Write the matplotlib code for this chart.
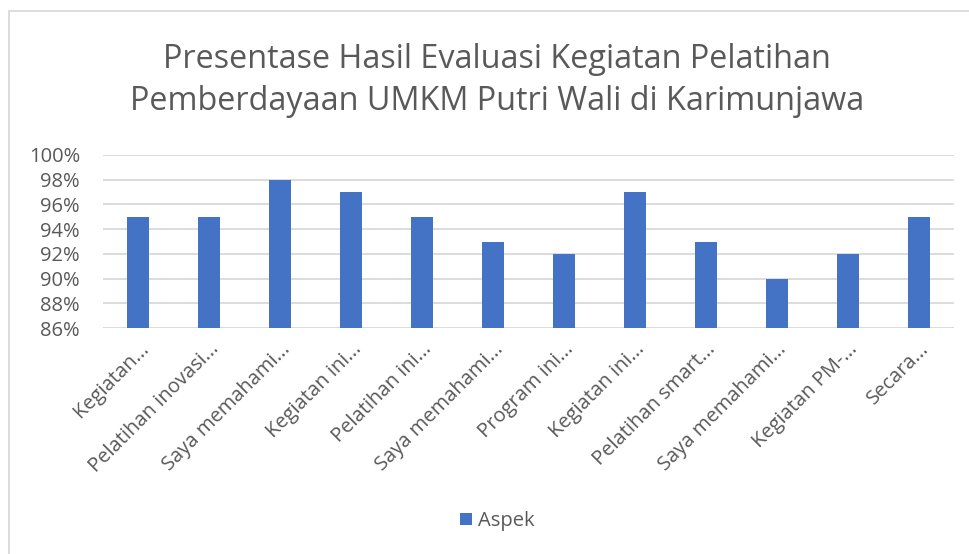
import numpy as np
import matplotlib.pyplot as plt
from matplotlib.patches import Rectangle
from matplotlib.ticker import FuncFormatter

labels = ['Kegiatan...', 'Pelatihan inovasi...', 'Saya memahami...', 'Kegiatan ini...',
          'Pelatihan ini...', 'Saya memahami...', 'Program ini...', 'Kegiatan ini...',
          'Pelatihan smart...', 'Saya memahami...', 'Kegiatan PM-...', 'Secara...']
values = [0.95, 0.95, 0.98, 0.97, 0.95, 0.93, 0.92, 0.97, 0.93, 0.90, 0.92, 0.95]
yticks = [0.86, 0.88, 0.90, 0.92, 0.94, 0.96, 0.98, 1.00]

plt.rcParams['font.family'] = ['Open Sans', 'DejaVu Sans']
grey = '#595959'
W, H = 970, 554

fig = plt.figure(figsize=(9.7, 5.54), dpi=100)
ax = fig.add_axes([103 / W, 1 - 328 / H, (954 - 103) / W, (328 - 155) / H])

x = np.arange(len(labels))
ax.bar(x, values, width=0.31, color='#4472C4', label='Aspek', zorder=3)

ax.set_xlim(-0.5, len(labels) - 0.5)
ax.set_ylim(0.86, 1.00)
ax.set_yticks(yticks)
ax.yaxis.set_major_formatter(FuncFormatter(lambda v, p: f'{v*100:.0f}%'))
ax.grid(axis='y', color='#d9d9d9', linewidth=1.3, zorder=0)
for s in ax.spines.values():
    s.set_visible(False)
ax.tick_params(axis='both', length=0, colors=grey, labelsize=14.5)
ax.tick_params(axis='y', pad=16.5)
ax.set_xticks(x)
ax.set_xticklabels(labels, rotation=45, ha='right', rotation_mode='anchor')
ax.tick_params(axis='x', pad=8)

fig.text(497 / W, 1 - 60 / H, 'Presentase Hasil Evaluasi Kegiatan Pelatihan',
         ha='center', va='center', fontsize=23.3, color=grey)
fig.text(497 / W, 1 - 101 / H, 'Pemberdayaan UMKM Putri Wali di Karimunjawa',
         ha='center', va='center', fontsize=23.3, color=grey)

fig.legend(loc='center', bbox_to_anchor=(497 / W, 1 - 521 / H), frameon=False,
           fontsize=14.5, labelcolor=grey, handlelength=0.6, handleheight=0.6,
           handletextpad=0.3)

fig.patches.append(Rectangle((9.5 / W, -0.01), 1.0, 1 - 10.5 / H + 0.01,
                             transform=fig.transFigure, fill=False,
                             edgecolor='#d9d9d9', linewidth=1.3))

fig.savefig('out.png', dpi=100, facecolor='white')
